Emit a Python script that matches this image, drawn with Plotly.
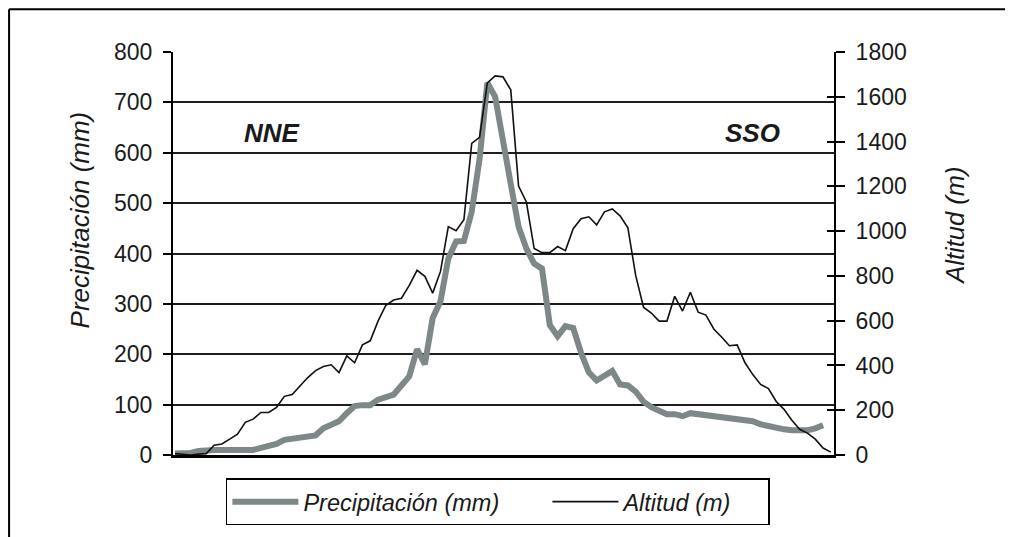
import plotly.graph_objects as go

# Profile sample positions (index along the transect, NNE -> SSO)
altitud_m = [6, 2, 0, 4, 6, 44, 49, 71, 93, 146, 160, 190, 190, 213, 262, 270, 310, 346, 377, 395,
             403, 368, 443, 412, 492, 510, 598, 669, 692, 700, 758, 825, 798, 723, 820, 1020, 1002, 1051, 1392, 1419,
             1662, 1693, 1689, 1631, 1201, 1130, 922, 904, 904, 931, 913, 1011, 1055, 1064, 1028, 1086, 1099, 1068, 1015, 802,
             660, 634, 598, 598, 709, 643, 727, 638, 625, 563, 527, 488, 492, 412, 359, 315, 297, 239, 204, 155,
             115, 98, 71, 31, 13]
precip_mm = [3, 3, 4, 8, 10, 10, 10, 10, 10, 10, 10, 14, 18, 22, 30, 32, 32, 35, 39, 53,
             61, 67, 83, 97, 99, 99, 110, 116, 120, 138, 156, 210, 180, 272, 305, 390, 424, 425, 483, 587,
             739, 711, 617, 538, 453, 410, 380, 370, 258, 236, 256, 252, 203, 164, 148, 158, 167, 140, 138, 126,
             106, 95, 87, 81, 81, 77, 83, 81, 79, 79, 77, 75, 71, 71, 67, 61, 57, 53, 51, 49,
             49, 49, 53, 59]
idx_alt = list(range(len(altitud_m)))
idx_pre = list(range(len(precip_mm)))

left_ticks = [0, 100, 200, 300, 400, 500, 600, 700, 800]
right_ticks = [0, 200, 400, 600, 800, 1000, 1200, 1400, 1600, 1800]

FONT = "Liberation Sans"
INK = "#1a1a1a"

fig = go.Figure()
fig.add_trace(go.Scatter(x=idx_pre, y=precip_mm, mode="lines", name="<i>Precipitación (mm)</i>",
                         line=dict(color="#7e8888", width=6), yaxis="y", legendwidth=239))
fig.add_trace(go.Scatter(x=idx_alt, y=altitud_m, mode="lines", name="<i>Altitud (m)</i>",
                         line=dict(color="#111111", width=1.6), yaxis="y2", legendwidth=140))
fig.add_trace(go.Scatter(x=[0], y=[0], yaxis="y3", mode="none", showlegend=False, hoverinfo="skip"))

fig.update_layout(
    width=1005, height=529,
    margin=dict(l=165, r=179, t=44, b=79),
    paper_bgcolor="white", plot_bgcolor="white",
    font=dict(family=FONT, size=23, color=INK),
    xaxis=dict(range=[-0.26, 84.4], showticklabels=False, ticks="", showgrid=False,
               zeroline=False, showline=True, linewidth=3, linecolor="black"),
    yaxis=dict(range=[0, 800], tickvals=left_ticks, ticks="outside", ticklen=8, tickwidth=1.5,
               tickcolor="black", showline=True, linewidth=2, linecolor="black",
               showgrid=True, gridcolor="#1e1e1e", gridwidth=2, zeroline=False,
               ticklabelstandoff=6),
    yaxis2=dict(range=[0, 1800], tickvals=right_ticks, overlaying="y", side="right", anchor="x",
                ticks="outside", ticklen=9, tickwidth=1.5, tickcolor="black",
                showline=True, linewidth=2, linecolor="black", showgrid=False, zeroline=False,
                ticklabelstandoff=6),
    yaxis3=dict(range=[0, 1800], tickvals=right_ticks, overlaying="y", side="right", anchor="x",
                ticks="inside", ticklen=7, tickwidth=1.5, tickcolor="black",
                showticklabels=False, showline=False, showgrid=False, zeroline=False),
    legend=dict(orientation="h", x=0.08, y=-0.058, xanchor="left", yanchor="top",
                bgcolor="white", bordercolor="black", borderwidth=1.5,
                font=dict(size=23.5), itemwidth=66),
    showlegend=True,
)

# axis titles
fig.add_annotation(text="<i>Precipitación (mm)</i>", x=-0.141, y=0.584, xref="paper", yref="paper",
                   textangle=-90, showarrow=False, xanchor="center", yanchor="middle",
                   font=dict(size=26, color=INK))
fig.add_annotation(text="<i>Altitud (m)</i>", x=1.183, y=0.569, xref="paper", yref="paper",
                   textangle=-90, showarrow=False, xanchor="center", yanchor="middle",
                   font=dict(size=25.5, color=INK))

fig.add_annotation(text="<b><i>NNE</i></b>", x=0.15, y=0.80, xref="paper", yref="paper",
                   showarrow=False, xanchor="center", yanchor="middle", font=dict(size=26, color=INK))
fig.add_annotation(text="<b><i>SSO</i></b>", x=0.876, y=0.80, xref="paper", yref="paper",
                   showarrow=False, xanchor="center", yanchor="middle", font=dict(size=26, color=INK))

# outer frame
fig.add_shape(type="line", xref="paper", yref="paper", x0=-0.248, x1=1.4, y0=1.106, y1=1.106,
              line=dict(color="black", width=2))
fig.add_shape(type="line", xref="paper", yref="paper", x0=-0.248, x1=-0.248, y0=1.106, y1=-0.4,
              line=dict(color="black", width=2))

fig.write_html("out.html")
